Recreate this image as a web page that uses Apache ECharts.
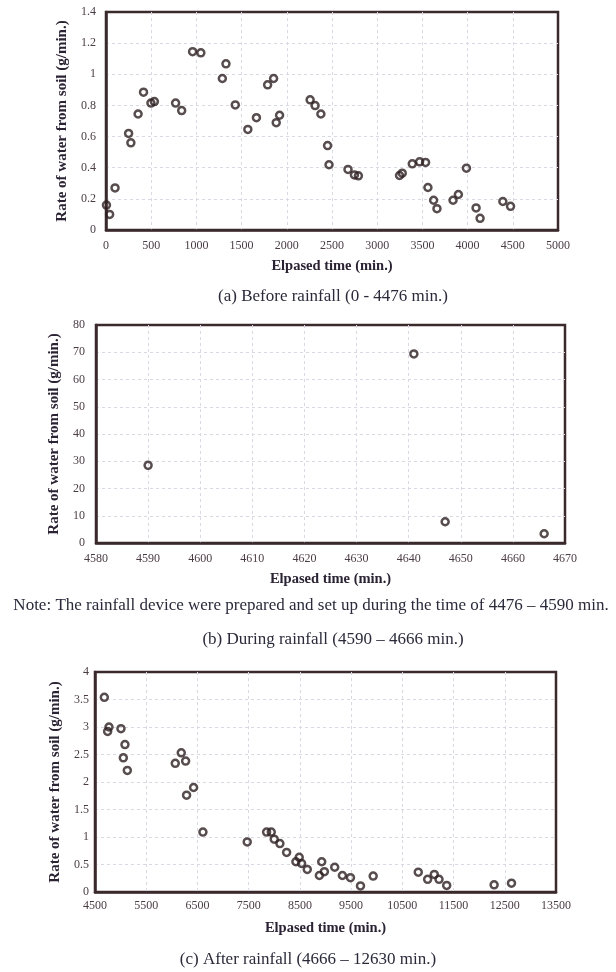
<!DOCTYPE html>
<html>
<head>
<meta charset="utf-8">
<script src="https://cdn.jsdelivr.net/npm/echarts@6/dist/echarts.min.js"></script>
<style>
html,body{margin:0;padding:0;background:#fff;}
#chart{width:616px;height:972px;}
</style>
</head>
<body>
<div id="chart"></div>
<script>
// ---- Data ----
const timeA = [5,40,100,250,275,355,415,497,535,770,837,958,1049,1287,1327,1430,1569,1664,1788,1854,1883,1920,2258,2313,2377,2451,2467,2677,2748,2792,3247,3277,3388,3469,3535,3561,3624,3661,3839,3898,3987,4094,4138,4390,4475];
const rateA = [0.16,0.10,0.27,0.62,0.56,0.745,0.885,0.815,0.825,0.815,0.767,1.145,1.138,0.973,1.067,0.803,0.646,0.721,0.932,0.973,0.689,0.737,0.836,0.799,0.745,0.542,0.419,0.389,0.354,0.348,0.350,0.365,0.425,0.438,0.434,0.273,0.191,0.137,0.191,0.228,0.397,0.142,0.075,0.183,0.152];

const timeB = [4590,4641,4647,4666];
const rateB = [28.5,69.4,7.8,3.4];

const timeC = [4682,4747,4773,5007,5053,5085,5131,6067,6184,6269,6288,6425,6607,7472,7850,7941,7999,8110,8241,8422,8487,8533,8644,8880,8926,8978,9180,9330,9487,9683,9931,10811,10994,11124,11216,11366,12292,12631];
const rateC = [3.54,2.92,3.00,2.97,2.44,2.68,2.21,2.34,2.53,2.38,1.76,1.90,1.09,0.91,1.09,1.09,0.96,0.88,0.72,0.55,0.63,0.52,0.41,0.30,0.55,0.37,0.45,0.30,0.26,0.11,0.29,0.36,0.23,0.32,0.23,0.12,0.13,0.16];

// axis ranges / tick steps
const xRangeA = [0, 5000], xStepA = 500;
const yRangeA = [0, 1.4], yStepA = 0.2;
const xRangeB = [4580, 4670], xStepB = 10;
const yRangeB = [0, 80], yStepB = 10;
const xRangeC = [4500, 13500], xStepC = 500, xLabelStepC = 1000;
const yRangeC = [0, 4], yStepC = 0.5;

const xTitle = 'Elpased time (min.)';
const yTitle = 'Rate of water from soil (g/min.)';
const captionA = '(a) Before rainfall (0 - 4476 min.)';
const noteB = 'Note: The rainfall device were prepared and set up during the time of 4476 \u2013 4590 min.';
const captionB = '(b) During rainfall (4590 \u2013 4666 min.)';
const captionC = '(c) After rainfall (4666 \u2013 12630 min.)';

// ---- Styles ----
const FONT = '"Liberation Serif", "DejaVu Serif", serif';
const frameColor = '#3b2a2c';
const tickColor = '#4a3c44';
const titleColor = '#2b2233';
const gridColor = '#d9d9e3';

function pairs(xs, ys) { return xs.map((x, i) => [x, ys[i]]); }
const plain = v => String(v);

function xAxis(idx, range, step, gap, margin, extra) {
  const a = {
    type: 'value', gridIndex: idx, min: range[0], max: range[1], interval: step,
    name: xTitle, nameLocation: 'middle', nameGap: gap,
    nameTextStyle: { fontFamily: FONT, fontSize: 14.5, fontWeight: 'bold', color: titleColor },
    axisLine: { show: true, onZero: false, lineStyle: { color: frameColor, width: 2.5 } },
    axisTick: { show: false },
    axisLabel: { fontFamily: FONT, fontSize: 12, color: tickColor, margin: margin, formatter: plain },
    splitLine: { show: true, showMaxLine: false, lineStyle: { color: gridColor, type: [3, 3], width: 1 } }
  };
  return Object.assign(a, extra || {});
}
function yAxis(idx, range, step, gap, margin) {
  return {
    type: 'value', gridIndex: idx, min: range[0], max: range[1], interval: step,
    name: yTitle, nameLocation: 'middle', nameGap: gap, nameRotate: 90,
    nameTextStyle: { fontFamily: FONT, fontSize: 15, fontWeight: 'bold', color: titleColor },
    axisLine: { show: true, onZero: false, lineStyle: { color: frameColor, width: 2.5 } },
    axisTick: { show: false },
    axisLabel: { fontFamily: FONT, fontSize: 12, color: tickColor, margin: margin, formatter: plain },
    splitLine: { show: true, showMaxLine: false, lineStyle: { color: gridColor, type: [3, 3], width: 1 } }
  };
}
function scatter(idx, data) {
  return {
    type: 'scatter', xAxisIndex: idx, yAxisIndex: idx, data: data,
    symbol: 'circle', symbolSize: 7,
    itemStyle: { color: 'rgba(0,0,0,0)', borderColor: '#2e2022', borderWidth: 2.5 },
    silent: true, animation: false
  };
}
function text(str, x, y, size, bold) {
  return {
    type: 'text', x: x, y: y,
    style: { text: str, fontFamily: FONT, fontSize: size, fontWeight: bold ? 'bold' : 'normal',
             fill: '#2a2a3a', textAlign: 'center', textVerticalAlign: 'middle' }
  };
}

const gridBase = { show: true, borderColor: frameColor, borderWidth: 2.5, backgroundColor: '#fff', containLabel: false };

const option = {
  backgroundColor: '#fff',
  animation: false,
  grid: [
    Object.assign({ left: 106, top: 12, width: 452, height: 218 }, gridBase),
    Object.assign({ left: 96, top: 325, width: 469, height: 218 }, gridBase),
    Object.assign({ left: 95, top: 672, width: 461, height: 220 }, gridBase)
  ],
  xAxis: [
    xAxis(0, xRangeA, xStepA, 28.5, 10),
    xAxis(1, xRangeB, xStepB, 28.5, 10),
    xAxis(2, xRangeC, xStepC, 28.5, 8, {
      axisLabel: { fontFamily: FONT, fontSize: 12, color: tickColor, margin: 8,
        formatter: v => ((v - xRangeC[0]) % xLabelStepC === 0 ? String(v) : '') },
      splitLine: { show: true, showMaxLine: false, lineStyle: { color: [gridColor, 'rgba(0,0,0,0)'], type: [3, 3], width: 1 } }
    })
  ],
  yAxis: [
    yAxis(0, yRangeA, yStepA, 31.5, 10),
    yAxis(1, yRangeB, yStepB, 28.5, 11),
    yAxis(2, yRangeC, yStepC, 30.5, 6)
  ],
  series: [
    scatter(0, pairs(timeA, rateA)),
    scatter(1, pairs(timeB, rateB)),
    scatter(2, pairs(timeC, rateC))
  ],
  graphic: [
    text(captionA, 333, 297, 17, false),
    text(noteB, 311, 606, 17, false),
    text(captionB, 333, 640, 17, false),
    text(captionC, 308, 960, 17, false)
  ]
};

const chart = echarts.init(document.getElementById('chart'), null, { renderer: 'canvas' });
chart.setOption(option);
</script>
</body>
</html>
